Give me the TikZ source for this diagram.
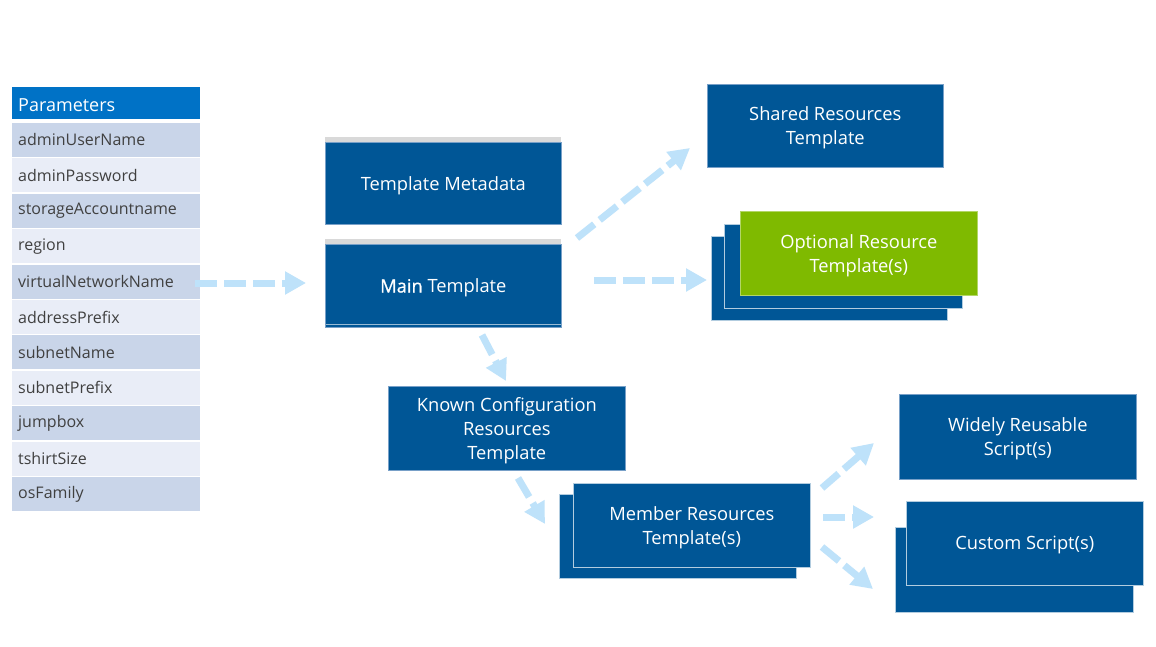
\documentclass[tikz,border=0pt]{standalone}
\usepackage{fontspec}
\setmainfont{Open Sans}
\newfontface\semibf[FakeBold=0.7]{Open Sans}
\usetikzlibrary{arrows.meta}
\definecolor{hdrblue}{RGB}{0,114,198}
\definecolor{boxblue}{RGB}{0,86,150}
\definecolor{boxedge}{RGB}{120,160,200}
\definecolor{optgreen}{RGB}{127,186,0}
\definecolor{rowdark}{RGB}{201,213,233}
\definecolor{rowlight}{RGB}{233,237,247}
\definecolor{rowtext}{RGB}{64,64,64}
\definecolor{arrowc}{RGB}{190,226,250}
\definecolor{barc}{RGB}{217,217,217}
\newcommand\lowr[1]{\raisebox{-2pt}[\height][\depth]{#1}}
\tikzset{
  box/.style={rectangle, fill=boxblue, draw=boxedge, line width=0.6pt, text=white,
    inner sep=0pt, align=center, font=\fontsize{18.3}{24}\selectfont},
  backbox/.style={rectangle, fill=boxblue, draw=white!70!boxblue, line width=0.8pt, inner sep=0pt},
  prow/.style={rectangle, inner xsep=6pt, inner ysep=0pt, text width=176pt, align=left,
    minimum height=34pt, text=rowtext, font=\fontsize{16}{18}\selectfont},
  flow/.style={draw=arrowc, line width=7pt, dash pattern=on 22pt off 7pt,
    -{Triangle[length=21pt,width=22pt]}},
}
\begin{document}
\begin{tikzpicture}[x=1pt,y=-1pt]
\useasboundingbox[fill=white] (0,0) rectangle (1156,647);
% Parameters table
\node[rectangle, fill=hdrblue, inner xsep=6pt, inner ysep=0pt, text width=176pt, align=left,
  minimum height=32pt, text=white, font=\fontsize{18}{22}\selectfont, anchor=north west]
  (phdr) at (12,87) {\lowr{Parameters}};
\foreach \t [count=\i from 0] in {adminUserName,adminPassword,storageAccountname,region,virtualNetworkName,addressPrefix,subnetName,subnetPrefix,jumpbox,tshirtSize,osFamily}{
  \ifodd\i\def\rc{rowlight}\else\def\rc{rowdark}\fi
  \node[prow, fill=\rc, anchor=north west] (p\i) at (12,{122.8+35.4*\i}) {\t};
}
% Template metadata and main template
\fill[barc] (325,137) rectangle (561,142);
\node[box, minimum width=236, minimum height=82, anchor=north west] (meta) at (325,142) {\lowr{Template Metadata}};
\fill[barc] (325,239) rectangle (561,244);
\node[box, minimum width=236, minimum height=83, anchor=north west] (main) at (325,244) {\lowr{{\semibf Main} Template}};
\draw[white!60!boxblue, line width=0.6pt] (325.5,324.5) -- (560.5,324.5);
% Shared resources
\node[box, minimum width=236, minimum height=83, anchor=north west] (shared) at (707,84) {\lowr{Shared Resources}\\\lowr{Template}};
% Optional stack
\node[backbox, minimum width=236, minimum height=84, anchor=north west] (opt3) at (711,236) {};
\node[backbox, minimum width=238, minimum height=84, anchor=north west] (opt2) at (724,224) {};
\node[box, fill=optgreen, draw=white!40!optgreen, minimum width=237, minimum height=84, anchor=north west] (opt) at (740,211) {\lowr{Optional Resource}\\\lowr{Template(s)}};
% Known configuration
\node[box, minimum width=237, minimum height=84, anchor=north west] (known) at (388,386) {\lowr{Known Configuration}\\\lowr{Resources}\\\lowr{Template}};
% Member stack
\node[backbox, minimum width=237, minimum height=84, anchor=north west] (mem2) at (559,494) {};
\node[box, draw=white!70!boxblue, minimum width=237, minimum height=84, anchor=north west] (mem) at (573,483) {\lowr{Member Resources}\\\lowr{Template(s)}};
% Widely reusable
\node[box, minimum width=237, minimum height=85, anchor=north west] (wide) at (899,394) {\lowr{Widely Reusable}\\\lowr{Script(s)}};
% Custom stack
\node[backbox, minimum width=238, minimum height=85, anchor=north west] (cust2) at (895,527) {};
\node[box, draw=white!70!boxblue, minimum width=237, minimum height=84, anchor=north west] (cust) at (906,501) {\lowr{Custom Script(s)}};
% arrow end points
\coordinate (a1s) at (195,283); \coordinate (a1e) at (306,283);
\coordinate (a2s) at (577,238); \coordinate (a2e) at (690,148);
\coordinate (a3s) at (594,280); \coordinate (a3e) at (707,280);
\coordinate (a4s) at (482,335); \coordinate (a4e) at (506,381);
\coordinate (a5s) at (518,478); \coordinate (a5e) at (545,524);
\coordinate (a6s) at (822,488); \coordinate (a6e) at (874,443);
\coordinate (a7s) at (823,517); \coordinate (a7e) at (874,517);
\coordinate (a8s) at (822,547); \coordinate (a8e) at (873,589);
\draw[flow] (a1s) -- (a1e);
\draw[flow] (a2s) -- (a2e);
\draw[flow] (a3s) -- (a3e);
\draw[flow] (a4s) -- (a4e);
\draw[flow] (a5s) -- (a5e);
\draw[flow] (a6s) -- (a6e);
\draw[flow] (a7s) -- (a7e);
\draw[flow] (a8s) -- (a8e);
\end{tikzpicture}
\end{document}
